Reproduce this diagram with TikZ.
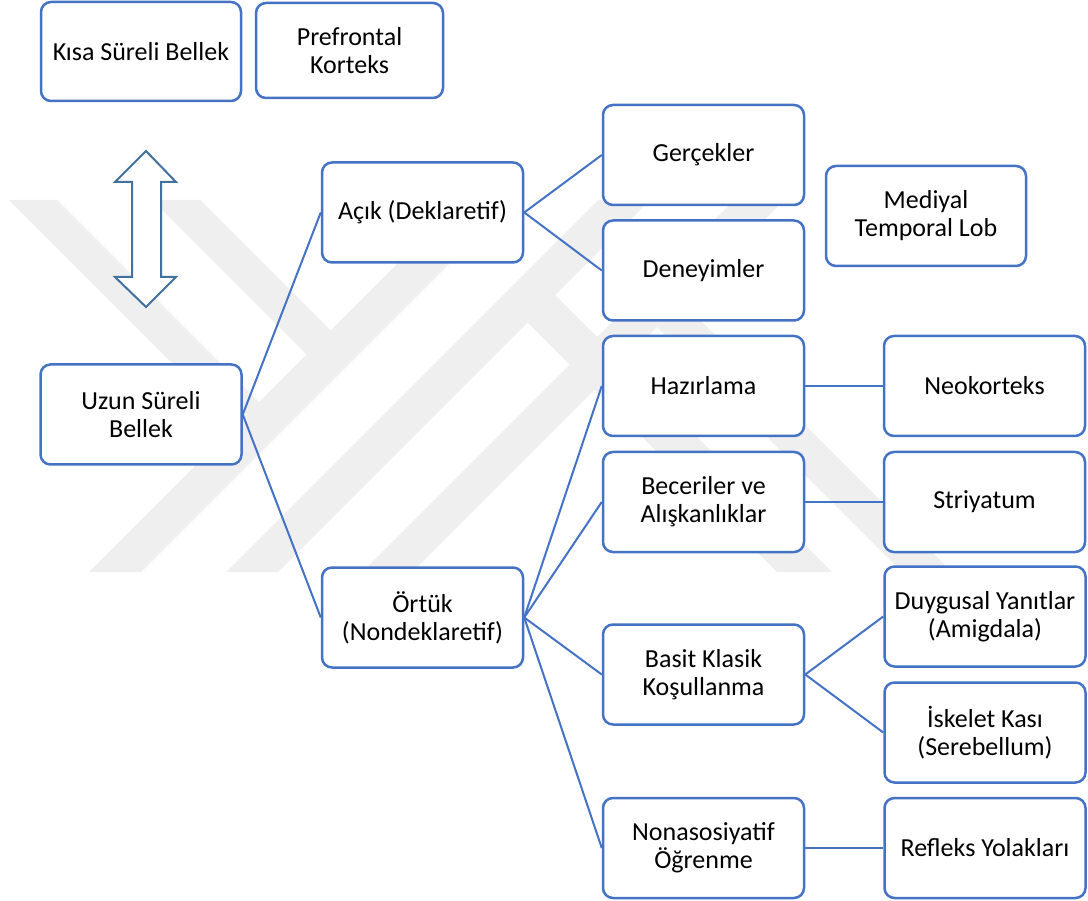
\documentclass[tikz,border=0pt]{standalone}
\usepackage{fontspec}
\setmainfont{Carlito}
\definecolor{boxblue}{HTML}{4472C4}
\definecolor{arrowblue}{HTML}{41719C}
\definecolor{wmgray}{HTML}{EFEFEF}
\begin{document}
\begin{tikzpicture}[x=1pt,y=-1pt,
  bx/.style={draw=boxblue, line width=2.5pt, rounded corners=10pt, fill=white,
    align=center, font=\fontsize{26}{28}\selectfont, inner sep=0pt,
    minimum width=201pt, minimum height=100pt},
  conn/.style={draw=boxblue, line width=2pt},
  wm/.style={fill=wmgray, draw=none},
  dbl/.style={draw=arrowblue, line width=2pt, fill=white, line join=miter}]
\useasboundingbox (0,0) rectangle (1088,901);
% watermark
\fill[wm] (9,200) -- (57,200) -- (259,402) -- (235,426) -- cycle;
\fill[wm] (152,200) -- (200,200) -- (330.5,330.5) -- (306.5,354.5) -- cycle;
\fill[wm] (89,572) -- (141,572) -- (513,200) -- (461,200) -- cycle;
\fill[wm] (226,572) -- (278,572) -- (650,200) -- (598,200) -- cycle;
\fill[wm] (362,572) -- (412,572) -- (784,200) -- (734,200) -- cycle;
\fill[wm] (527.5,322.5) -- (555,295) -- (832,572) -- (777,572) -- cycle;
\fill[wm] (657,327) -- (682,302) -- (952,572) -- (902,572) -- cycle;
% double arrow
\draw[dbl] (146,151) -- (176,182) -- (161,182) -- (161,277) -- (176,277) -- (146,307)
  -- (115,277) -- (132,277) -- (132,182) -- (115,182) -- cycle;
% boxes
\node[bx, minimum width=200pt, minimum height=99pt] (ksb) at (141,51.5) {Kısa Süreli Bellek};
\node[bx, minimum width=187pt, minimum height=95pt] (pfk) at (349.5,50.5) {Prefrontal\\Korteks};
\node[bx] (usb) at (141,414.5) {Uzun Süreli\\Bellek};
\node[bx] (acik) at (422.5,212.5) {Açık (Deklaretif)};
\node[bx] (gerc) at (703.5,155) {Gerçekler};
\node[bx] (deney) at (703.5,270.5) {Deneyimler};
\node[bx, minimum width=200pt] (medi) at (926,216) {Mediyal\\Temporal Lob};
\node[bx] (hazir) at (703.5,386) {Hazırlama};
\node[bx] (neo) at (984.5,386) {Neokorteks};
\node[bx] (becer) at (703.5,502) {Beceriler ve\\Alışkanlıklar};
\node[bx] (striy) at (984.5,502) {Striyatum};
\node[bx] (ortuk) at (422.5,617.5) {Örtük\\(Nondeklaretif)};
\node[bx] (basit) at (703.5,674.5) {Basit Klasik\\Koşullanma};
\node[bx] (duyg) at (985,616.5) {Duygusal Yanıtlar\\(Amigdala)};
\node[bx] (iskel) at (985,732.5) {İskelet Kası\\(Serebellum)};
\node[bx] (nonas) at (703.5,848) {Nonasosiyatif\\Öğrenme};
\node[bx] (refl) at (985,848) {Refleks Yolakları};
% connectors
\draw[conn] (usb.east) -- (acik.west);
\draw[conn] (usb.east) -- (ortuk.west);
\draw[conn] (acik.east) -- (gerc.west);
\draw[conn] (acik.east) -- (deney.west);
\draw[conn] (ortuk.east) -- (hazir.west);
\draw[conn] (ortuk.east) -- (becer.west);
\draw[conn] (ortuk.east) -- (basit.west);
\draw[conn] (ortuk.east) -- (nonas.west);
\draw[conn] (hazir.east) -- (neo.west);
\draw[conn] (becer.east) -- (striy.west);
\draw[conn] (basit.east) -- (duyg.west);
\draw[conn] (basit.east) -- (iskel.west);
\draw[conn] (nonas.east) -- (refl.west);
\end{tikzpicture}
\end{document}
